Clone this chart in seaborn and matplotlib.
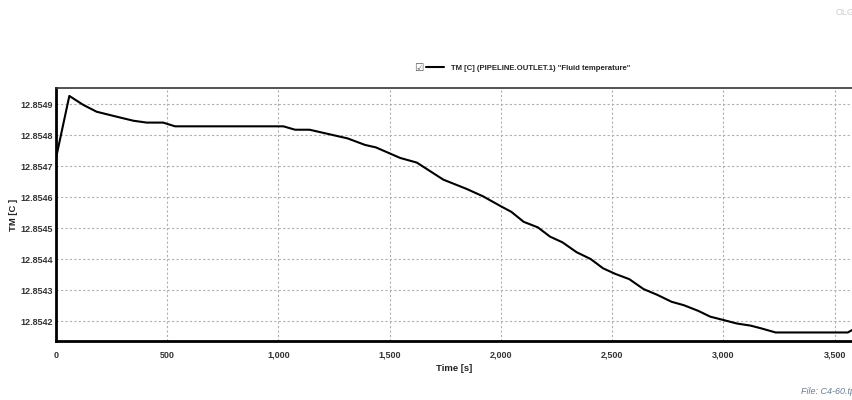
import pandas as pd
import matplotlib.pyplot as plt
import matplotlib.ticker as mticker
import seaborn as sns

# time [s] and outlet fluid temperature [C]
time_s = [0, 60, 123, 183, 273, 348, 408, 482, 535, 1022, 1075, 1140,
          1311, 1389, 1438, 1547, 1622, 1741, 1846, 1920, 2000, 2047,
          2102, 2166, 2221, 2276, 2340, 2403, 2459, 2514, 2577, 2641,
          2704, 2767, 2822, 2886, 2941, 2996, 3060, 3123, 3171, 3235,
          3559, 3579]
temp_c = [12.854726, 12.854927, 12.854898, 12.854876, 12.854860,
          12.854847, 12.854841, 12.854841, 12.854829, 12.854829,
          12.854818, 12.854818, 12.854790, 12.854769, 12.854761,
          12.854727, 12.854712, 12.854657, 12.854627, 12.854603,
          12.854571, 12.854553, 12.854521, 12.854503, 12.854473,
          12.854455, 12.854423, 12.854401, 12.854371, 12.854353,
          12.854336, 12.854304, 12.854285, 12.854263, 12.854252,
          12.854234, 12.854215, 12.854205, 12.854193, 12.854186,
          12.854177, 12.854164, 12.854164, 12.854172]

x_ticks = [0, 500, 1000, 1500, 2000, 2500, 3000, 3500]
y_ticks = [12.8542, 12.8543, 12.8544, 12.8545, 12.8546, 12.8547, 12.8548, 12.8549]

sns.set_style("white")
plt.rcParams["font.family"] = ["Liberation Sans", "DejaVu Sans"]

df = pd.DataFrame({"time": time_s, "temp": temp_c})

fig = plt.figure(figsize=(8.52, 4.0), dpi=100)
ax = fig.add_axes([0.0657, 0.1475, 0.9343, 0.6325])

sns.lineplot(data=df, x="time", y="temp", ax=ax, color="black", linewidth=1.5,
             label='TM [C] (PIPELINE.OUTLET.1) "Fluid temperature"', legend=False)

ax.set_xlim(0, 3578)
ax.set_ylim(12.8541365, 12.8549526)
ax.set_xticks(x_ticks)
ax.set_yticks(y_ticks)
ax.xaxis.set_major_formatter(mticker.FuncFormatter(lambda v, p: f"{int(v):,}"))
ax.yaxis.set_major_formatter(mticker.FormatStrFormatter("%.4f"))
ax.tick_params(length=0, labelsize=6.5, colors="#333333")
ax.tick_params(axis="y", pad=2)
ax.tick_params(axis="x", pad=7)
for lab in ax.get_xticklabels() + ax.get_yticklabels():
    lab.set_fontweight("bold")

ax.grid(True, color="#b0b0b0", linestyle=(0, (2, 2)), linewidth=0.8)

for side in ["left", "bottom"]:
    ax.spines[side].set_color("black")
    ax.spines[side].set_linewidth(2)
ax.spines["top"].set_color("#333333")
ax.spines["top"].set_linewidth(1.2)
ax.spines["right"].set_visible(False)

ax.set_xlabel("Time [s]", fontsize=6.8, fontweight="bold", color="#222222", labelpad=3)
ax.set_ylabel("TM [C ]", fontsize=6.8, fontweight="bold", color="#222222", labelpad=2)

handles, labels = ax.get_legend_handles_labels()
fig.legend(handles, labels, loc="center left", bbox_to_anchor=(0.5005, 0.83), frameon=False,
           handlelength=2.2, handletextpad=0.9, borderpad=0, borderaxespad=0,
           prop={"weight": "bold", "size": 5.6})
fig.text(0.4915, 0.83, "\u2611", fontsize=7.5, color="#555555", ha="center", va="center",
         family=["DejaVu Sans"])

fig.text(0.981, 0.968, "OLGA", fontsize=6.5, color="#cccccc", ha="left", va="center")
fig.text(0.94, 0.02, "File: C4-60.tpl", fontsize=6.5, color="#6a7f99", style="italic",
         ha="left", va="center")

plt.savefig("out.png", dpi=100)
plt.close()
